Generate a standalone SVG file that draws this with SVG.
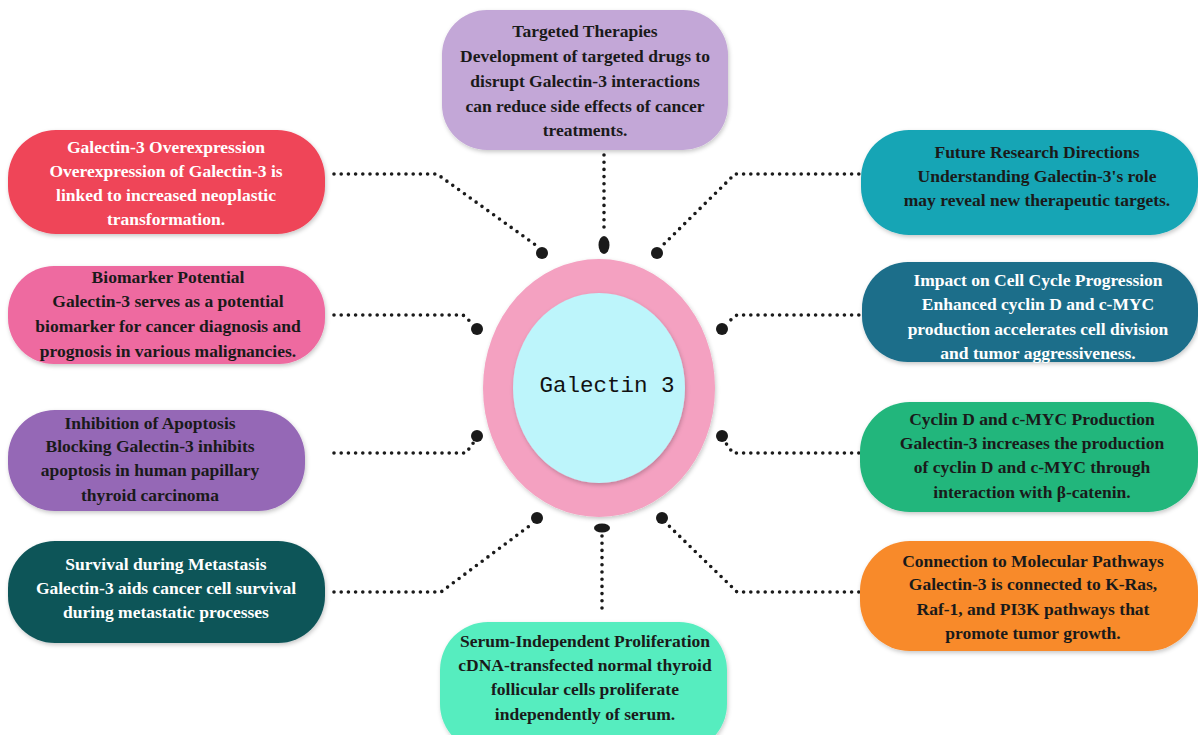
<svg xmlns="http://www.w3.org/2000/svg" width="1198" height="735" viewBox="0 0 1198 735">
<defs>
<filter id="sh" x="-10%" y="-10%" width="120%" height="130%">
<feDropShadow dx="1" dy="2" stdDeviation="2" flood-color="#000" flood-opacity="0.22"/>
</filter>
<style>
.t{font-family:"Liberation Serif","Times New Roman",serif;font-weight:bold;font-size:17.5px;text-anchor:middle;fill:#1a1a1a}
.w{fill:#ffffff}
.c{fill:none;stroke:#1a1a1a;stroke-width:3.6;stroke-linecap:round;stroke-dasharray:0 7.2}
.d{fill:#1a1a1a}
.box{filter:url(#sh)}
</style>
</defs>
<rect width="1198" height="735" fill="#ffffff"/>

<g id="connectors">
<path class="c" d="M334 174 H437 L537 246"/>
<path class="c" d="M604 155 V234"/>
<path class="c" d="M866 174 H735 L662 246"/>
<path class="c" d="M334 315 H463 L472 323"/>
<path class="c" d="M866 315 H737 L727 323"/>
<path class="c" d="M334 453 H466 L474 442"/>
<path class="c" d="M866 453 H733 L725 442"/>
<path class="c" d="M334 592 H441 L532 524"/>
<path class="c" d="M866 592 H737 L667 524"/>
<path class="c" d="M602 536 V614"/>
<circle class="d" cx="542" cy="253" r="6"/>
<ellipse class="d" cx="604" cy="245" rx="5.5" ry="9"/>
<circle class="d" cx="657" cy="253" r="6"/>
<circle class="d" cx="477" cy="329" r="6"/>
<circle class="d" cx="722" cy="329" r="6"/>
<circle class="d" cx="477" cy="436" r="6"/>
<circle class="d" cx="722" cy="436" r="6"/>
<circle class="d" cx="537" cy="518" r="6"/>
<circle class="d" cx="662" cy="518" r="6"/>
<ellipse class="d" cx="602" cy="528" rx="8" ry="4.5"/>
</g>

<g id="center">
<ellipse cx="599" cy="388" rx="116" ry="129" fill="#F4A1C1" filter="url(#sh)"/>
<ellipse cx="599" cy="388" rx="86" ry="95" fill="#BDF5FB" filter="url(#sh)"/>
<text x="607" y="392" font-family="'Liberation Mono','Courier New',monospace" font-size="22.5" text-anchor="middle" fill="#111">Galectin 3</text>
</g>

<g id="n-targeted">
<rect class="box" x="442" y="10" width="286" height="140" rx="45" fill="#C3A7D7"/>
<text class="t" x="585" y="37">Targeted Therapies</text>
<text class="t" x="585" y="62">Development of targeted drugs to</text>
<text class="t" x="585" y="87">disrupt Galectin-3 interactions</text>
<text class="t" x="585" y="112">can reduce side effects of cancer</text>
<text class="t" x="585" y="136">treatments.</text>
</g>

<g id="n-overexpression">
<rect class="box" x="8" y="130" width="317" height="104" rx="48" fill="#EF4459"/>
<text class="t w" x="166" y="153">Galectin-3 Overexpression</text>
<text class="t w" x="166" y="177">Overexpression of Galectin-3 is</text>
<text class="t w" x="166" y="201">linked to increased neoplastic</text>
<text class="t w" x="166" y="225">transformation.</text>
</g>

<g id="n-biomarker">
<rect class="box" x="8" y="266" width="317" height="98" rx="46" fill="#EE6AA0"/>
<text class="t" x="168" y="283">Biomarker Potential</text>
<text class="t" x="168" y="307">Galectin-3 serves as a potential</text>
<text class="t" x="168" y="332">biomarker for cancer diagnosis and</text>
<text class="t" x="168" y="357">prognosis in various malignancies.</text>
</g>

<g id="n-apoptosis">
<rect class="box" x="8" y="410" width="297" height="101" rx="47" fill="#9567B6"/>
<text class="t" x="150" y="429">Inhibition of Apoptosis</text>
<text class="t" x="150" y="452">Blocking Galectin-3 inhibits</text>
<text class="t" x="150" y="476">apoptosis in human papillary</text>
<text class="t" x="150" y="501">thyroid carcinoma</text>
</g>

<g id="n-survival">
<rect class="box" x="8" y="541" width="317" height="102" rx="47" fill="#0B5458"/>
<text class="t w" x="166" y="570">Survival during Metastasis</text>
<text class="t w" x="166" y="594">Galectin-3 aids cancer cell survival</text>
<text class="t w" x="166" y="618">during metastatic processes</text>
</g>

<g id="n-future">
<rect class="box" x="861" y="130" width="337" height="105" rx="48" fill="#17A5B5"/>
<text class="t" x="1037" y="158">Future Research Directions</text>
<text class="t" x="1037" y="182">Understanding Galectin-3's role</text>
<text class="t" x="1037" y="206">may reveal new therapeutic targets.</text>
</g>

<g id="n-cellcycle">
<rect class="box" x="862" y="262" width="336" height="100" rx="46" fill="#1B6E8A"/>
<text class="t w" x="1038" y="286">Impact on Cell Cycle Progression</text>
<text class="t w" x="1038" y="310">Enhanced cyclin D and c-MYC</text>
<text class="t w" x="1038" y="335">production accelerates cell division</text>
<text class="t w" x="1038" y="359">and tumor aggressiveness.</text>
</g>

<g id="n-cyclin">
<rect class="box" x="860" y="402" width="338" height="110" rx="50" fill="#21B67C"/>
<text class="t" x="1032" y="425">Cyclin D and c-MYC Production</text>
<text class="t" x="1032" y="449">Galectin-3 increases the production</text>
<text class="t" x="1032" y="473">of cyclin D and c-MYC through</text>
<text class="t" x="1032" y="498">interaction with β-catenin.</text>
</g>

<g id="n-pathways">
<rect class="box" x="860" y="541" width="338" height="110" rx="50" fill="#F88A2A"/>
<text class="t" x="1033" y="567">Connection to Molecular Pathways</text>
<text class="t" x="1033" y="590">Galectin-3 is connected to K-Ras,</text>
<text class="t" x="1033" y="615">Raf-1, and PI3K pathways that</text>
<text class="t" x="1033" y="639">promote tumor growth.</text>
</g>

<g id="n-serum">
<rect class="box" x="440" y="622" width="287" height="130" rx="48" fill="#57EDBF"/>
<text class="t" x="585" y="647">Serum-Independent Proliferation</text>
<text class="t" x="585" y="671">cDNA-transfected normal thyroid</text>
<text class="t" x="585" y="695">follicular cells proliferate</text>
<text class="t" x="585" y="720">independently of serum.</text>
</g>
</svg>
